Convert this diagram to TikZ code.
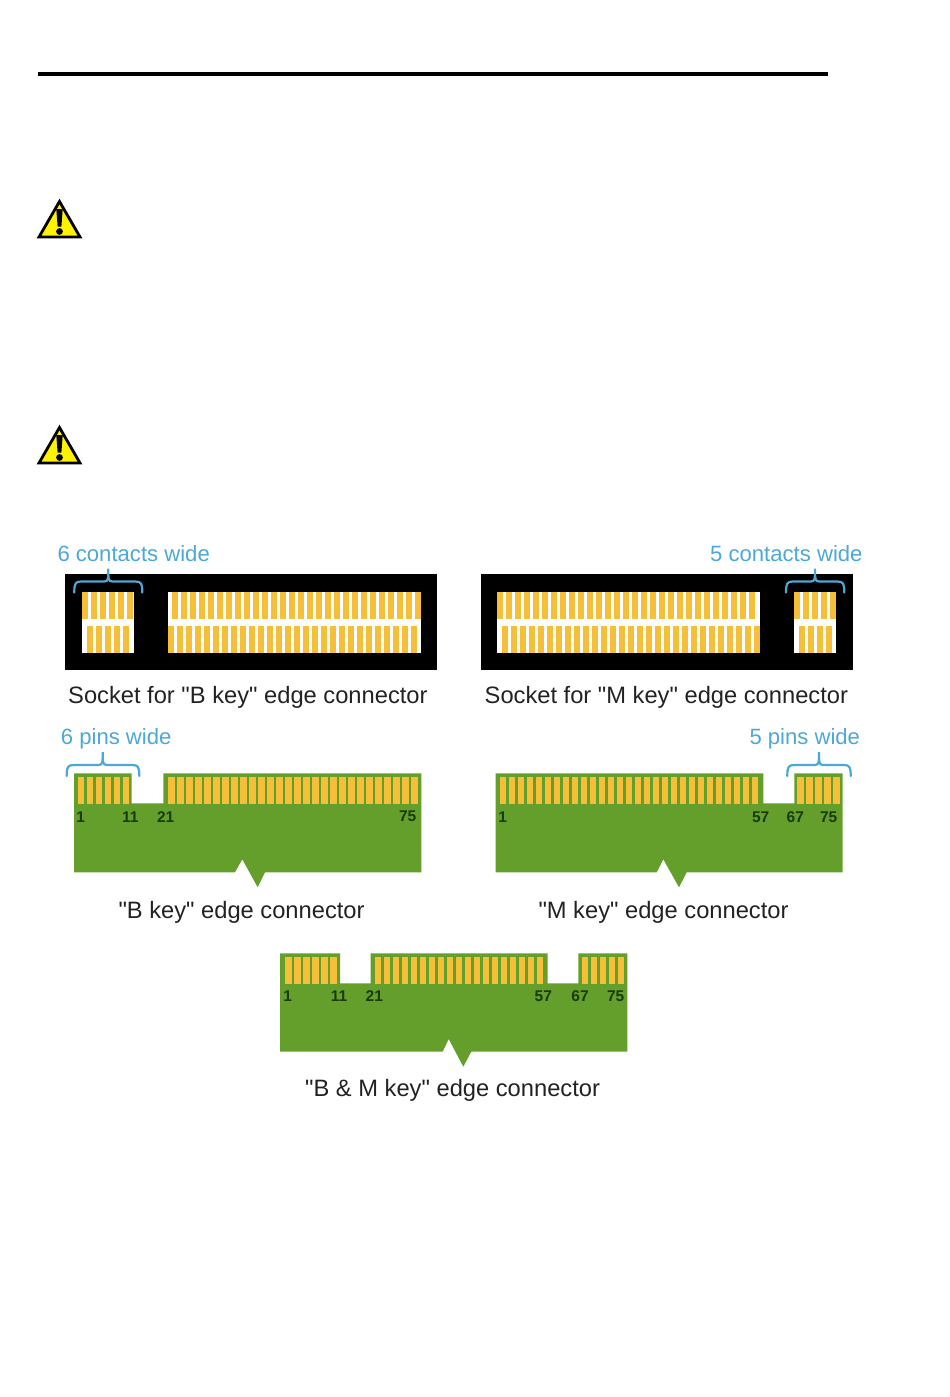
\documentclass[tikz,border=0pt]{standalone}
\usepackage{fontspec}
\newfontfamily\labelfont{Liberation Sans}
\usetikzlibrary{positioning}

\definecolor{pinyellow}{HTML}{F5BF3A}
\definecolor{boardgreen}{HTML}{659F2B}
\definecolor{hintblue}{HTML}{4CA8D6}
\definecolor{pinnumber}{HTML}{1B3A0C}
\definecolor{captiongray}{HTML}{222222}

\tikzset{
    caption/.style={anchor=base west, inner sep=0pt, text=captiongray, font=\labelfont\fontsize{23.7}{26}\selectfont},
    hint/.style={anchor=base west, inner sep=0pt, text=hintblue, font=\labelfont\fontsize{22.1}{24}\selectfont},
    pinno/.style={inner sep=0pt, text=pinnumber, font=\labelfont\bfseries\fontsize{15.5}{16}\selectfont},
    bracket/.style={draw=hintblue, line width=2.2pt, line cap=round},
    board/.style={fill=boardgreen},
    warnsign/.pic={
        \draw[fill=yellow, line width=2.8pt, line join=miter] (-20.5,18) -- (0,-17.5) -- (20.5,18) -- cycle;
        \fill[black] (-3.2,-10) -- (3.2,-10) -- (1.9,7.5) -- (-1.9,7.5) -- cycle;
        \fill[black] (0,12.5) circle (3.4pt);
    }
}

% #1 first x, #2 last index, #3 top y, #4 height, #5 width
\newcommand{\pinrow}[5]{
    \foreach \k in {0,...,#2}
        \fill[pinyellow] ({#1+9*\k},#3) rectangle ++(#5,#4);
}
% #1 left x, #2 right x, #3 middle x, #4 foot y
\newcommand{\widthbrace}[4]{
    \draw[bracket] (#1,#4) .. controls (#1,{#4-9}) and ({#1+1},{#4-11}) .. ({#1+7},{#4-11})
        -- ({#3-4},{#4-11}) .. controls (#3,{#4-11}) and (#3,{#4-14}) .. (#3,{#4-24})
        .. controls (#3,{#4-14}) and (#3,{#4-11}) .. ({#3+4},{#4-11})
        -- ({#2-7},{#4-11}) .. controls ({#2-1},{#4-11}) and (#2,{#4-9}) .. (#2,#4);
}

\begin{document}
\begin{tikzpicture}[x=1pt, y=-1pt]
    \useasboundingbox (0,0) rectangle (950,1397);

    \coordinate (rule_l) at (38,74);
    \coordinate (rule_r) at (828,74);
    \draw[line width=3pt] (rule_l) -- (rule_r);

    \pic at (59.5,219) {warnsign};
    \pic at (59.5,445) {warnsign};

    % sockets
    \fill[black] (65,574) rectangle (437,670);
    \fill[white] (82.3,592) rectangle (133.7,653.3);
    \fill[white] (168.3,592) rectangle (420.7,653.3);
    \pinrow{82.3}{5}{592}{27}{6}
    \pinrow{86.7}{4}{626}{27}{6}
    \pinrow{172}{27}{592}{27}{6}
    \pinrow{168.3}{27}{626}{27}{6}
    \widthbrace{74.3}{142.3}{108.3}{592.5}

    \fill[black] (481,574) rectangle (853,670);
    \fill[white] (497.3,592) rectangle (759.7,653.3);
    \fill[white] (794.3,592) rectangle (836,653.3);
    \pinrow{497.3}{28}{592}{27}{6}
    \pinrow{501.7}{28}{626}{27}{6}
    \pinrow{794.3}{4}{592}{27}{6}
    \pinrow{798.7}{3}{626}{27}{6}
    \widthbrace{786}{844.3}{815}{592.5}

    \node[hint] (contacts_b) at (57.3,561.5) {6 contacts wide};
    \node[hint] (contacts_m) at (710,561.5) {5 contacts wide};
    \node[caption] (socket_b) at (68,703) {Socket for "B key" edge connector};
    \node[caption] (socket_m) at (484.5,703) {Socket for "M key" edge connector};

    % B key
    \fill[board] (74,773.3) -- (131.7,773.3) -- (131.7,803.3) -- (163.3,803.3) -- (163.3,773.3)
        -- (421.3,773.3) -- (421.3,872.3) -- (265,872.3) -- (257.7,887.3) -- (242.3,859.3)
        -- (235,872.3) -- (74,872.3) -- cycle;
    \pinrow{77.7}{5}{777.3}{27}{6.2}
    \pinrow{168.3}{27}{777.3}{27}{6.2}
    \widthbrace{66.7}{139.3}{102.7}{776}
    \node[hint] (pins_b) at (60.7,744.3) {6 pins wide};
    \node[pinno] (b_1) at (80.7,817) {1};
    \node[pinno] (b_11) at (130.3,817) {11};
    \node[pinno] (b_21) at (165.7,817) {21};
    \node[pinno] (b_75) at (407.7,816) {75};
    \node[caption] (edge_b) at (118.3,918) {"B key" edge connector};

    % M key
    \fill[board] (495.7,773.3) -- (763.3,773.3) -- (763.3,803.3) -- (794.3,803.3) -- (794.3,773.3)
        -- (842.7,773.3) -- (842.7,872.3) -- (686.7,872.3) -- (679,887.3) -- (663.3,859.3)
        -- (656.7,872.3) -- (495.7,872.3) -- cycle;
    \pinrow{500}{28}{777.3}{27}{6.2}
    \pinrow{797.3}{4}{777.3}{27}{6.2}
    \widthbrace{787.3}{850.7}{819}{776}
    \node[hint] (pins_m) at (749.3,744.3) {5 pins wide};
    \node[pinno] (m_1) at (502.7,817.5) {1};
    \node[pinno] (m_57) at (760.7,817.5) {57};
    \node[pinno] (m_67) at (795.3,817.5) {67};
    \node[pinno] (m_75) at (828.7,817.5) {75};
    \node[caption] (edge_m) at (538.3,918) {"M key" edge connector};

    % B & M key
    \fill[board] (280,953.3) -- (340,953.3) -- (340,983.3) -- (370.7,983.3) -- (370.7,953.3)
        -- (547.7,953.3) -- (547.7,983.3) -- (578.3,983.3) -- (578.3,953.3) -- (627.3,953.3)
        -- (627.3,1051.7) -- (471.3,1051.7) -- (463.3,1066.7) -- (448.7,1039)
        -- (442.7,1051.7) -- (280,1051.7) -- cycle;
    \pinrow{285.3}{5}{956.7}{27}{6.2}
    \pinrow{375}{18}{956.7}{27}{6.2}
    \pinrow{581.7}{4}{956.7}{27}{6.2}
    \node[pinno] (bm_1) at (287.7,996) {1};
    \node[pinno] (bm_11) at (339,996) {11};
    \node[pinno] (bm_21) at (374.3,996) {21};
    \node[pinno] (bm_57) at (543.3,996) {57};
    \node[pinno] (bm_67) at (580,996) {67};
    \node[pinno] (bm_75) at (615.7,996) {75};
    \node[caption] (edge_bm) at (305,1096.7) {"B \& M key" edge connector};
\end{tikzpicture}
\end{document}
